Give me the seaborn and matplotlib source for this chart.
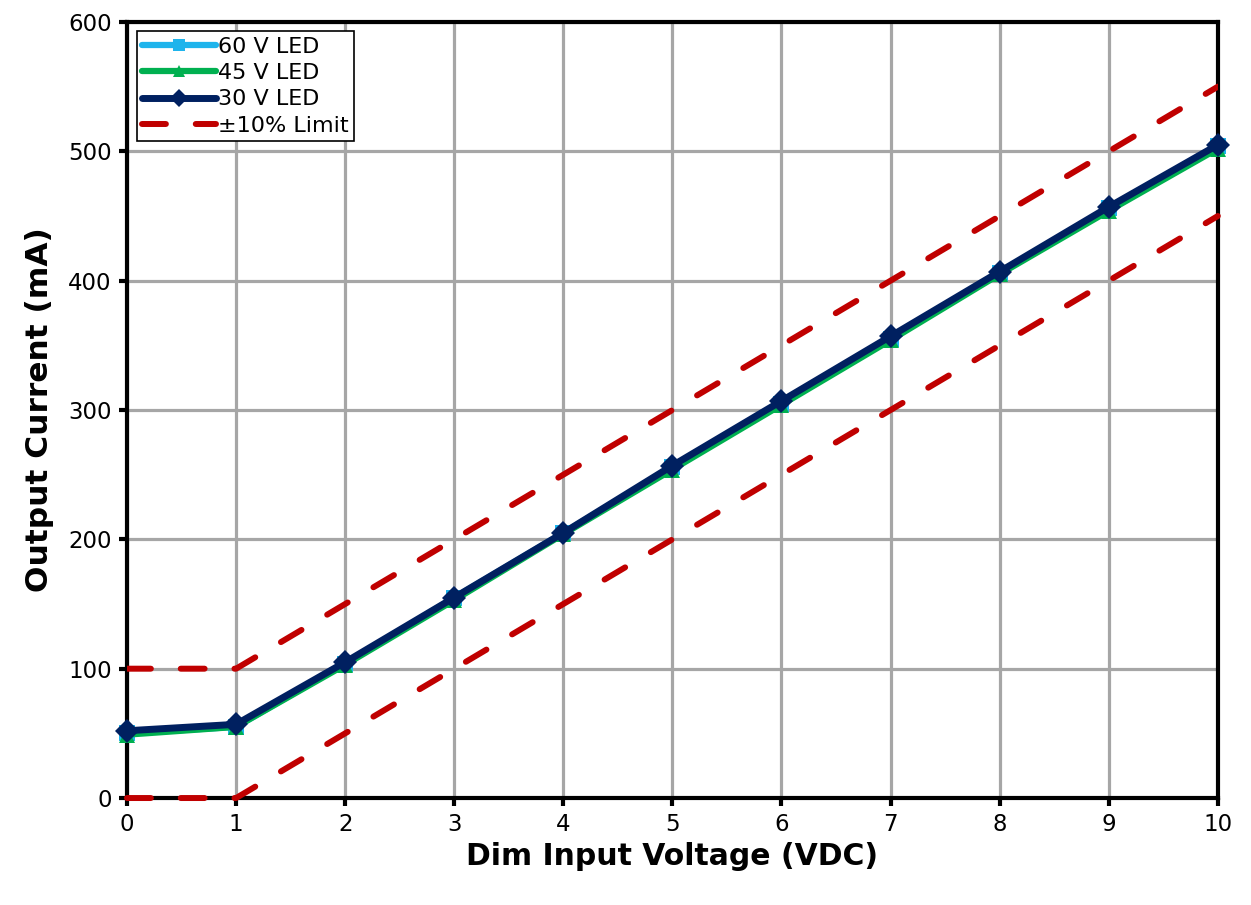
import numpy as np
import pandas as pd
import seaborn as sns
import matplotlib
import matplotlib.pyplot as plt
matplotlib.use('Agg')

sns.set_theme(style="white")
plt.rcParams['font.family'] = ['DejaVu Sans']
plt.rcParams['text.color'] = 'black'
plt.rcParams['axes.labelcolor'] = 'black'
plt.rcParams['xtick.color'] = 'black'
plt.rcParams['ytick.color'] = 'black'

# data
dim_voltage = [0, 1, 2, 3, 4, 5, 6, 7, 8, 9, 10]
led_60v = [50, 55, 104, 155, 205, 256, 305, 355, 406, 456, 504]
led_45v = [49, 55, 103, 153, 204, 254, 304, 354, 405, 454, 502]
led_30v = [52, 57, 105, 155, 205, 257, 307, 357, 407, 457, 505]
upper_limit = [100, 100, 150, 200, 250, 300, 350, 400, 450, 500, 550]
lower_limit = [0, 0, 50, 100, 150, 200, 250, 300, 350, 400, 450]

df = pd.DataFrame({'v': dim_voltage, '60': led_60v, '45': led_45v, '30': led_30v,
                   'up': upper_limit, 'lo': lower_limit})

fig = plt.figure(figsize=(12.51, 9.05), dpi=100)
ax = fig.add_axes([0.1015, 0.1182, 0.872, 0.8575])

sns.lineplot(data=df, x='v', y='60', ax=ax, color='#1eb4ec', lw=4.5, marker='s', ms=12,
             markeredgewidth=0, label='60 V LED', zorder=3, clip_on=False)
sns.lineplot(data=df, x='v', y='45', ax=ax, color='#00b050', lw=4.5, marker='^', ms=12,
             markeredgewidth=0, label='45 V LED', zorder=4, clip_on=False)
sns.lineplot(data=df, x='v', y='30', ax=ax, color='#002060', lw=5, marker='D', ms=12,
             markeredgewidth=0, label='30 V LED', zorder=5, clip_on=False)
sns.lineplot(data=df, x='v', y='up', ax=ax, color='#c00000', lw=4.3, label='\u00b110% Limit',
             zorder=2)
ax.lines[-1].set_dashes([4, 5])
ax.lines[-1].set_dash_capstyle('round')
sns.lineplot(data=df, x='v', y='lo', ax=ax, color='#c00000', lw=4.3, zorder=6, clip_on=False)
ax.lines[-1].set_dashes([4, 5])
ax.lines[-1].set_dash_capstyle('round')
ax.lines[-1].set_label('_nolegend_')

ax.set_xlim(0, 10)
ax.set_ylim(0, 600)
ax.set_xticks(range(0, 11))
ax.set_yticks(range(0, 601, 100))
ax.grid(True, color='#a6a6a6', lw=2.3)
ax.set_axisbelow(True)
for s in ax.spines.values():
    s.set_color('black')
    s.set_linewidth(3)
    s.set_zorder(1.5)
ax.tick_params(axis='both', direction='out', length=6, width=3, color='black',
               labelsize=16.5, pad=5, left=True, bottom=True)

ax.set_xlabel('Dim Input Voltage (VDC)', fontsize=21.5, fontweight='bold', labelpad=4)
ax.set_ylabel('Output Current (mA)', fontsize=22.5, fontweight='bold', labelpad=10)

handles, labels = ax.get_legend_handles_labels()
keep = [i for i, l in enumerate(labels) if not l.startswith('_')][:4]
leg = ax.legend([handles[i] for i in keep], [labels[i] for i in keep],
                loc='upper left', bbox_to_anchor=(0.009, 0.988), fontsize=16,
                frameon=True, fancybox=False, edgecolor='black', framealpha=1,
                handlelength=3.3, handletextpad=0.1, borderpad=0.25, labelspacing=0.28,
                borderaxespad=0, markerscale=0.75)
leg.get_frame().set_linewidth(1.2)

fig.savefig('out.png', dpi=100)
